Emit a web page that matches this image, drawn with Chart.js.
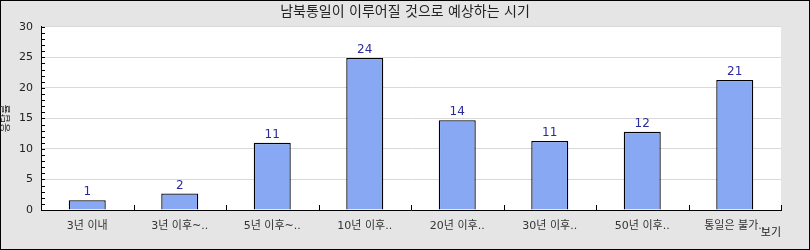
<!DOCTYPE html>
<html>
<head>
<meta charset="utf-8">
<script src="https://cdn.jsdelivr.net/npm/chart.js@4/dist/chart.umd.min.js"></script>
<style>
  body { margin: 0; }
  #wrap { width: 810px; height: 250px; }
</style>
</head>
<body>
<div id="wrap"><canvas id="chart"></canvas></div>
<script>
// Chart data
var categories = ["3년 이내", "3년 이후~..", "5년 이후~..", "10년 이후..", "20년 이후..", "30년 이후..", "50년 이후..", "통일은 불가.."];
var barValues = [1.6, 2.7, 11.0, 24.9, 14.7, 11.3, 12.8, 21.3];
var barLabels = ["1", "2", "11", "24", "14", "11", "12", "21"];
var yTicks = [0, 5, 10, 15, 20, 25, 30];

var FONT = "'DejaVu Sans', 'Noto Sans CJK KR', sans-serif";

// background, frame and white plot area
var backdrop = {
  id: "backdrop",
  beforeDraw: function (chart) {
    var c = chart.ctx, a = chart.chartArea;
    c.save();
    c.fillStyle = "#e5e5e5";
    c.fillRect(0, 0, chart.width, chart.height);
    c.strokeStyle = "#000";
    c.lineWidth = 1;
    c.strokeRect(0.5, 0.5, chart.width - 1, chart.height - 1);
    c.fillStyle = "#fff";
    c.fillRect(a.left, a.top, a.right - a.left, a.bottom - a.top);
    c.restore();
  }
};

// small tick marks on the axes, and value labels on the bars
var extras = {
  id: "extras",
  afterDatasetsDraw: function (chart) {
    var c = chart.ctx, a = chart.chartArea;
    var ys = chart.scales.y, xs = chart.scales.x;
    c.save();
    c.strokeStyle = "#000";
    c.lineWidth = 1;
    c.beginPath();
    for (var v = ys.min; v <= ys.max; v++) {
      var py = Math.round(ys.getPixelForValue(v)) + 0.5;
      c.moveTo(a.left, py);
      c.lineTo(a.left + 4, py);
    }
    var n = categories.length;
    for (var i = 1; i <= n; i++) {
      var px = Math.round(xs.getPixelForValue(i - 0.5)) + 0.5;
      c.moveTo(px, a.bottom);
      c.lineTo(px, a.bottom - 5);
    }
    c.stroke();

    var meta = chart.getDatasetMeta(0);
    c.fillStyle = "#2b2b9a";
    c.font = "12px " + FONT;
    c.textAlign = "center";
    c.textBaseline = "bottom";
    meta.data.forEach(function (bar, k) {
      c.fillText(barLabels[k], bar.x, bar.y - 2);
    });
    c.restore();
  }
};

var ctx = document.getElementById("chart").getContext("2d");

var myChart = new Chart(ctx, {
  type: "bar",
  data: {
    labels: categories,
    datasets: [{
      data: barValues,
      backgroundColor: "#88a8f3",
      borderColor: "#000",
      borderWidth: 1.3,
      borderSkipped: "bottom",
      categoryPercentage: 0.4,
      barPercentage: 1.0
    }]
  },
  plugins: [backdrop, extras],
  options: {
    responsive: true,
    maintainAspectRatio: false,
    animation: false,
    events: [],
    layout: { padding: 0 },
    plugins: {
      legend: { display: false },
      tooltip: { enabled: false },
      title: {
        display: true,
        text: "남북통일이 이루어질 것으로 예상하는 시기",
        color: "#222",
        font: { family: FONT, size: 14, weight: "normal" },
        padding: { top: 4, bottom: 6 }
      }
    },
    scales: {
      x: {
        grid: { display: false, drawTicks: false },
        border: { color: "#000", width: 1 },
        ticks: { color: "#333", font: { family: FONT, size: 11 }, padding: 10, maxRotation: 0, autoSkip: false },
        title: {
          display: true,
          text: "보기",
          align: "end",
          color: "#222",
          font: { family: FONT, size: 11 },
          padding: { top: -6, bottom: 10 }
        },
        afterFit: function (s) { s.height = 40; }
      },
      y: {
        min: 0,
        max: 30,
        afterBuildTicks: function (s) {
          s.ticks = yTicks.map(function (v) { return { value: v }; });
        },
        grid: { color: "#d9d9d9", drawTicks: false },
        border: { color: "#000", width: 1 },
        ticks: { color: "#222", font: { family: FONT, size: 11 }, padding: 8 },
        title: {
          display: true,
          text: "응답률",
          color: "#222",
          font: { family: FONT, size: 10 },
          padding: { top: 0, bottom: 0 }
        },
        afterFit: function (s) { s.width = 41; }
      },
      // empty right-hand margin so the title stays centred on the whole picture
      yRight: {
        position: "right",
        display: true,
        grid: { display: false, drawTicks: false },
        border: { display: false },
        ticks: { display: false },
        afterFit: function (s) { s.width = 29; }
      }
    }
  }
});
</script>
</body>
</html>
